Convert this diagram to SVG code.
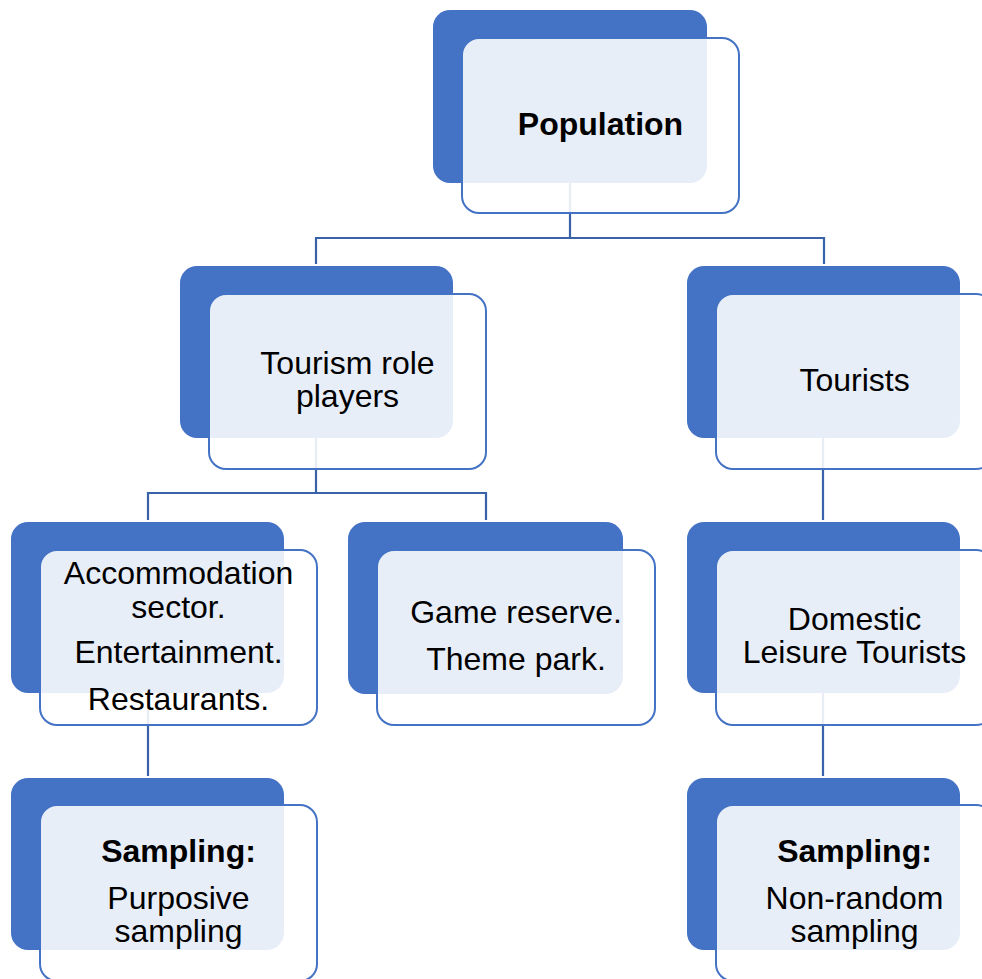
<svg xmlns="http://www.w3.org/2000/svg" width="982" height="979" viewBox="0 0 982 979">
<style>
.back{fill:#4472C4;}
.front{fill:#FFFFFF;fill-opacity:0.88;stroke:#4472C4;stroke-width:2;}
.conn{fill:none;stroke:#3A62A9;stroke-width:2.2;}
text{font-family:"Liberation Sans",Arial,sans-serif;font-size:32px;fill:#000;text-anchor:middle;}
.b{font-weight:bold;}
</style>
<rect width="982" height="979" fill="#FFFFFF"/>
<g id="connectors">
<path class="conn" d="M570,183 V238 M316,264 V238 H824 V264"/>
<path class="conn" d="M316,438 V493 M148,520 V493 H486 V520"/>
<path class="conn" d="M823,438 V520"/>
<path class="conn" d="M148,693 V776"/>
<path class="conn" d="M823,693 V776"/>
</g>
<g id="population">
<rect class="back" x="433" y="10" width="274" height="173" rx="17"/>
<rect class="front" x="462" y="38" width="277" height="175" rx="17"/>
<text class="b" x="600.5" y="135">Population</text>
</g>
<g id="tourism-role-players">
<rect class="back" x="180" y="266" width="273" height="172" rx="17"/>
<rect class="front" x="209" y="294" width="277" height="175" rx="17"/>
<text x="347.5" y="374">Tourism role<tspan x="347.5" dy="33">players</tspan></text>
</g>
<g id="tourists">
<rect class="back" x="687" y="266" width="273" height="172" rx="17"/>
<rect class="front" x="716" y="294" width="277" height="175" rx="17"/>
<text x="854.5" y="391">Tourists</text>
</g>
<g id="accommodation">
<rect class="back" x="11" y="522" width="273" height="171" rx="17"/>
<rect class="front" x="40" y="550" width="277" height="175" rx="17"/>
<text x="178.5" y="584">Accommodation<tspan x="178.5" dy="34">sector.</tspan><tspan x="178.5" dy="45">Entertainment.</tspan><tspan x="178.5" dy="47">Restaurants.</tspan></text>
</g>
<g id="game-reserve">
<rect class="back" x="348" y="522" width="275" height="172" rx="17"/>
<rect class="front" x="377" y="550" width="278" height="175" rx="17"/>
<text x="516" y="623">Game reserve.<tspan x="516" dy="47">Theme park.</tspan></text>
</g>
<g id="domestic-leisure-tourists">
<rect class="back" x="687" y="522" width="273" height="171" rx="17"/>
<rect class="front" x="716" y="550" width="277" height="175" rx="17"/>
<text x="854.5" y="630">Domestic<tspan x="854.5" dy="33">Leisure Tourists</tspan></text>
</g>
<g id="sampling-purposive">
<rect class="back" x="11" y="778" width="273" height="172" rx="17"/>
<rect class="front" x="40" y="805" width="277" height="176" rx="17"/>
<text x="178.5" y="862"><tspan class="b">Sampling:</tspan><tspan x="178.5" dy="47">Purposive</tspan><tspan x="178.5" dy="33">sampling</tspan></text>
</g>
<g id="sampling-nonrandom">
<rect class="back" x="687" y="778" width="273" height="172" rx="17"/>
<rect class="front" x="716" y="805" width="277" height="176" rx="17"/>
<text x="854.5" y="862"><tspan class="b">Sampling:</tspan><tspan x="854.5" dy="47">Non-random</tspan><tspan x="854.5" dy="33">sampling</tspan></text>
</g>
</svg>
